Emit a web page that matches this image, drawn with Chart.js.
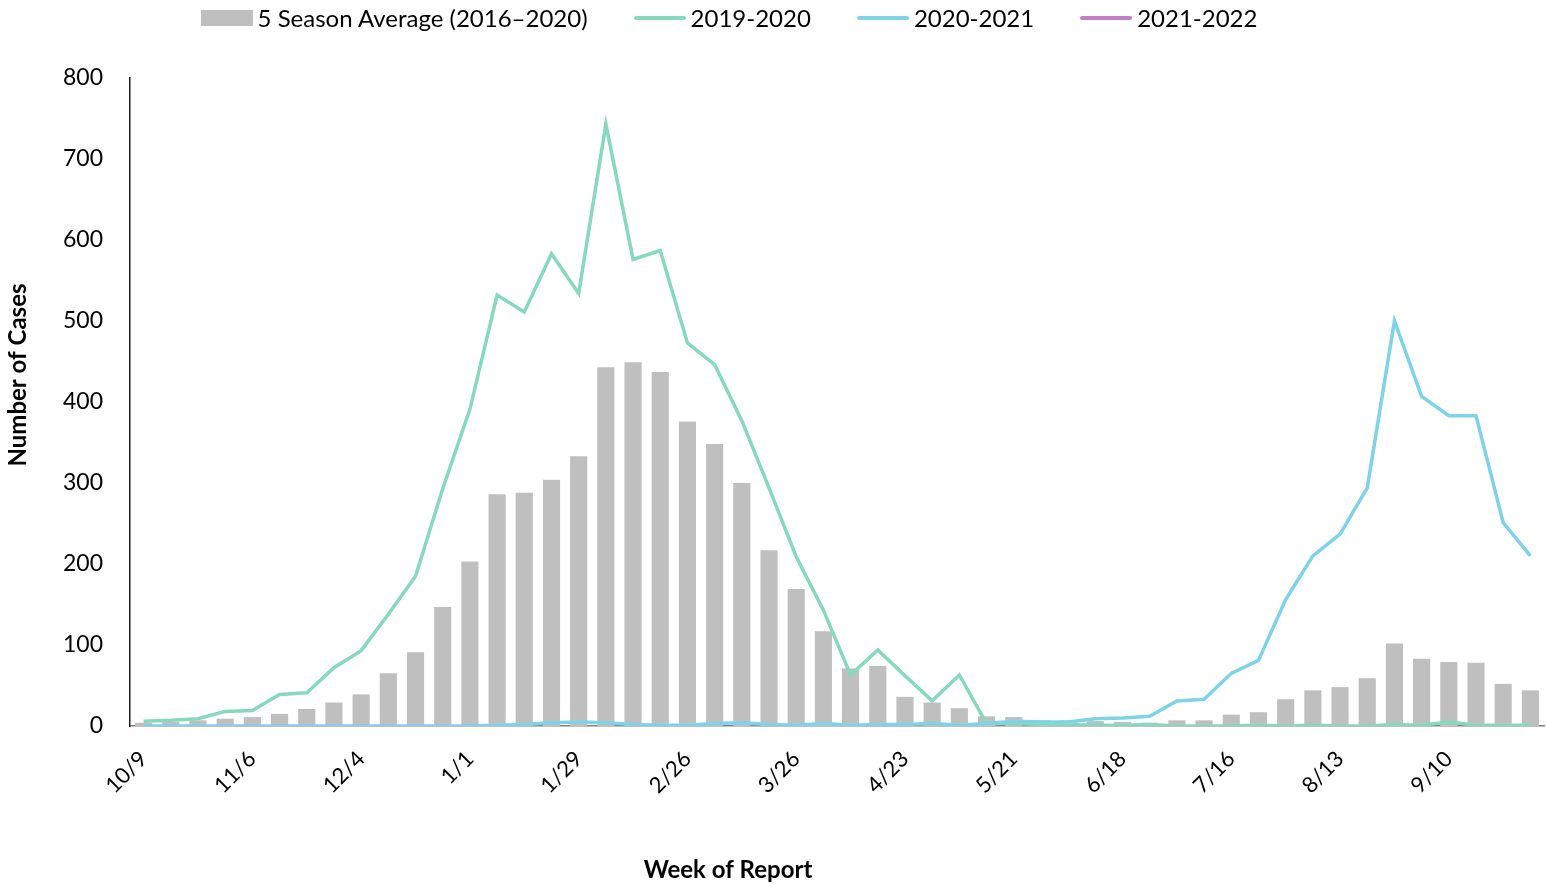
<!DOCTYPE html>
<html>
<head>
<meta charset="utf-8">
<title>Weekly cases</title>
<script src="https://cdn.jsdelivr.net/npm/chart.js@4.4.0/dist/chart.umd.min.js"></script>
<style>
  html, body { margin: 0; padding: 0; background: #fff; }
  #wrap { position: relative; width: 1546px; height: 884px; }
  #legend {
    position: absolute; left: 0; top: 3px; width: 1458px;
    display: flex; justify-content: center; align-items: center;
    font-family: Lato, "Open Sans", sans-serif; font-size: 24px; color: #000;
  }
  .item { display: flex; align-items: center; margin: 0 23px; }
  .swatch { display: inline-block; width: 52px; margin-right: 5px; }
</style>
</head>
<body>
<div id="wrap">
  <canvas id="myChart" width="1546" height="884"></canvas>
  <div id="legend"></div>
</div>
<script>
// week of report, 10/9 .. 10/1
var weeks = ["10/9", "10/16", "10/23", "10/30", "11/6", "11/13", "11/20", "11/27",
  "12/4", "12/11", "12/18", "12/25", "1/1", "1/8", "1/15", "1/22",
  "1/29", "2/5", "2/12", "2/19", "2/26", "3/5", "3/12", "3/19",
  "3/26", "4/2", "4/9", "4/16", "4/23", "4/30", "5/7", "5/14",
  "5/21", "5/28", "6/4", "6/11", "6/18", "6/25", "7/2", "7/9",
  "7/16", "7/23", "7/30", "8/6", "8/13", "8/20", "8/27", "9/3",
  "9/10", "9/17", "9/24", "10/1"];

var avg5 = [4, 5, 7, 9, 11, 15, 21, 29, 39, 65, 91, 147, 203, 286, 288, 304,
  333, 443, 449, 437, 376, 348, 300, 217, 169, 117, 71, 74, 36, 29, 22, 12,
  11, 7, 7, 6, 5, 4, 7, 7, 14, 17, 33, 44, 48, 59, 102, 83, 79, 78, 52, 44];

var s1920 = [6, 7, 9, 18, 19, 39, 41, 72, 93, 138, 185, 293, 391, 532, 511, 583,
  534, 743, 576, 587, 473, 446, 377, 294, 209, 143, 63, 94, 62, 31, 63, 3,
  3, 2, 2, 1, 1, 2, 0, 0, 0, 1, 0, 1, 0, 0, 2, 1, 5, 1, 1, 1];

var s2021 = [0, 0, 0, 0, 0, 0, 0, 0, 0, 0, 0, 0, 0, 1, 2, 4,
  5, 4, 2, 1, 1, 3, 4, 2, 1, 3, 1, 2, 2, 3, 1, 3,
  6, 5, 5, 9, 10, 12, 31, 33, 65, 81, 156, 210, 237, 294, 500, 407, 383, 383, 251, 210];

var s2122 = [0];

var yTicks = [0, 100, 200, 300, 400, 500, 600, 700, 800];

var FONT = 'Lato, "Open Sans", sans-serif';

const axisTitles = {
  id: "axisTitles",
  afterDraw(chart) {
    const ctx = chart.ctx;
    ctx.save();
    ctx.fillStyle = "#000";
    ctx.font = "bold 24px " + FONT;
    ctx.textAlign = "center";
    ctx.textBaseline = "middle";
    ctx.fillText("Week of Report", 728, 870);
    ctx.translate(18, 375);
    ctx.rotate(-Math.PI / 2);
    ctx.fillText("Number of Cases", 0, 0);
    ctx.restore();
  }
};

var ctx = document.getElementById("myChart");
var chart = new Chart(ctx, {
  type: "bar",
  data: {
    labels: weeks,
    datasets: [
      {
        label: "5 Season Average (2016\u20132020)",
        data: avg5,
        backgroundColor: "#bfbfbf",
        borderWidth: 0,
        barPercentage: 0.63,
        categoryPercentage: 1,
        order: 4
      },
      {
        type: "line",
        label: "2019-2020",
        data: s1920,
        borderColor: "#86d9bf",
        borderWidth: 3.5,
        pointRadius: 0,
        tension: 0,
        fill: false,
        order: 3
      },
      {
        type: "line",
        label: "2020-2021",
        data: s2021,
        borderColor: "#7fd3e8",
        borderWidth: 3.5,
        pointRadius: 0,
        tension: 0,
        fill: false,
        order: 2
      },
      {
        type: "line",
        label: "2021-2022",
        data: s2122,
        borderColor: "#c77cc7",
        borderWidth: 3.5,
        pointRadius: 0,
        tension: 0,
        fill: false,
        order: 1
      }
    ]
  },
  options: {
    responsive: false,
    animation: false,
    layout: { padding: { top: 78, left: 0, right: 2, bottom: 0 } },
    plugins: {
      legend: { display: false },
      tooltip: { enabled: false }
    },
    scales: {
      x: {
        offset: true,
        grid: { display: false },
        border: { display: true, color: "#808080", width: 1.5 },
        ticks: {
          autoSkip: false,
          minRotation: 45,
          maxRotation: 45,
          padding: 12,
          color: "#000",
          font: { family: FONT, size: 22 },
          callback: function (v, i) { return i % 4 === 0 ? weeks[i] : ""; }
        },
        afterFit: function (scale) {
          scale.height = 158;
          scale.paddingRight = 0;
          scale.paddingLeft = 0;
        }
      },
      y: {
        min: yTicks[0],
        max: yTicks[yTicks.length - 1],
        grid: { display: false, drawTicks: false },
        border: { display: true, color: "#1a1a1a", width: 1.5 },
        ticks: {
          stepSize: yTicks[1] - yTicks[0],
          padding: 27,
          color: "#000",
          font: { family: FONT, size: 23 }
        },
        afterFit: function (scale) { scale.width = 130; }
      }
    }
  },
  plugins: [axisTitles]
});

// html legend
var legendEl = document.getElementById("legend");
chart.data.datasets.forEach(function (ds) {
  var item = document.createElement("div");
  item.className = "item";
  var sw = document.createElement("span");
  sw.className = "swatch";
  if (ds.type === "line") {
    sw.style.height = "4px";
    sw.style.borderRadius = "2px";
    sw.style.background = ds.borderColor;
  } else {
    sw.style.height = "16px";
    sw.style.background = ds.backgroundColor;
  }
  var txt = document.createElement("span");
  txt.textContent = ds.label;
  item.appendChild(sw);
  item.appendChild(txt);
  legendEl.appendChild(item);
});
</script>
</body>
</html>
